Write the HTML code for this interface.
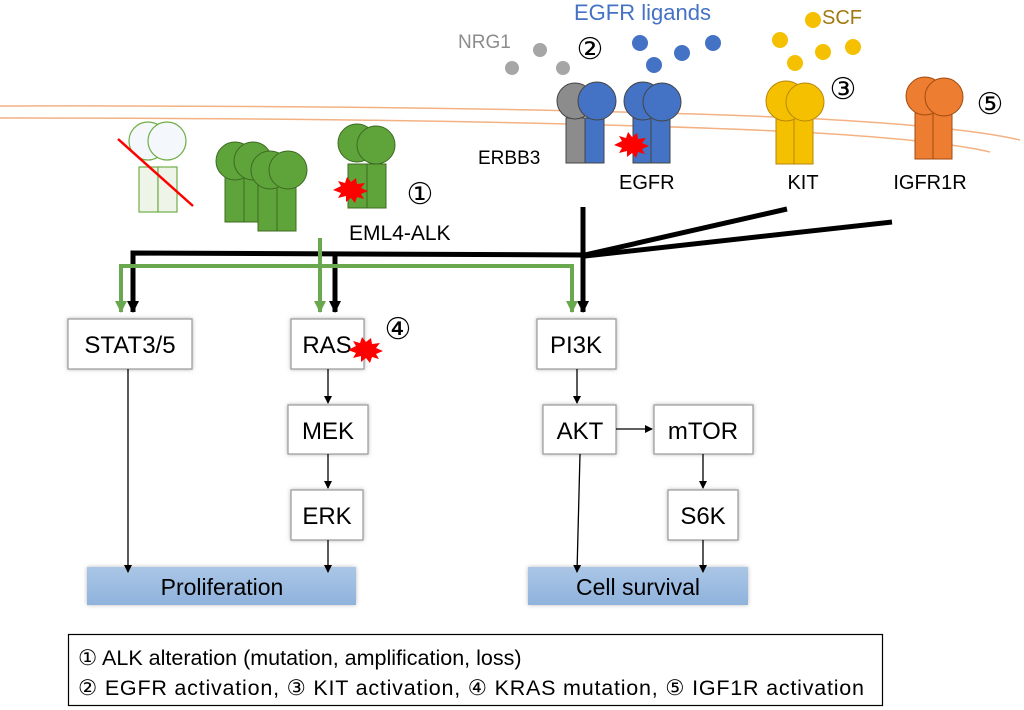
<!DOCTYPE html>
<html><head><meta charset="utf-8"><style>
html,body{margin:0;padding:0;background:#fff}
svg{display:block}
text{font-family:"Liberation Sans","DejaVu Sans",sans-serif}
</style></head><body>
<svg width="1024" height="710" viewBox="0 0 1024 710" xmlns="http://www.w3.org/2000/svg">
<defs>
<linearGradient id="bar" x1="0" y1="0" x2="0" y2="1"><stop offset="0" stop-color="#aac6e6"/><stop offset="1" stop-color="#8fb2dc"/></linearGradient>
<marker id="ab" markerWidth="8" markerHeight="8" refX="7" refY="4" orient="auto" markerUnits="userSpaceOnUse"><path d="M0,0 L8,4 L0,8 z" fill="#000"/></marker>
<marker id="sa" markerWidth="12" markerHeight="12" refX="11" refY="6" orient="auto" markerUnits="userSpaceOnUse"><path d="M0,0 L12,6 L0,12 z" fill="#000"/></marker>
<marker id="ga" markerWidth="12" markerHeight="12" refX="11" refY="6" orient="auto" markerUnits="userSpaceOnUse"><path d="M0,0 L12,6 L0,12 z" fill="#6aa84f"/></marker>
<filter id="sh"><feDropShadow dx="0" dy="0" stdDeviation="2" flood-color="#888" flood-opacity="0.6"/></filter>
</defs>

<!-- membrane -->
<path d="M0,106 Q500,105 800,118 Q960,126 1020,140" stroke="#f4b183" stroke-width="1.5" fill="none"/>
<path d="M0,118 Q500,118 800,132 Q940,140 990,152" stroke="#f4b183" stroke-width="1.5" fill="none"/>

<!-- ghost receptor -->
<g stroke="#70ad47" stroke-width="1.2" fill="#eef4e8">
<rect x="139" y="167" width="19" height="45"/><rect x="158" y="167" width="19" height="45"/>
<circle cx="148" cy="141" r="19" fill="#f4f7fb"/><circle cx="167" cy="141" r="19" fill="#f4f7fb"/>
</g>
<line x1="118" y1="139" x2="193" y2="206" stroke="#f00" stroke-width="2.5"/>

<!-- amplified cluster -->
<g stroke="#3d6b22" stroke-width="1" fill="#5fa33b">
<rect x="225" y="176" width="19" height="46"/><rect x="244" y="176" width="19" height="46"/>
<circle cx="235" cy="161" r="19"/><circle cx="253" cy="161" r="19"/>
<rect x="258" y="185" width="19" height="46"/><rect x="277" y="185" width="19" height="46"/>
<circle cx="270" cy="170" r="19"/><circle cx="288" cy="170" r="19"/>
</g>

<!-- EML4-ALK -->
<g stroke="#3d6b22" stroke-width="1" fill="#5fa33b">
<rect x="348" y="164" width="19" height="44"/><rect x="367" y="164" width="19" height="44"/>
<circle cx="357" cy="143" r="19"/><circle cx="376" cy="145" r="19"/>
</g>
<polygon points="333,190 341,186 338,181 345,183 347,177 351,182 356,178 357,184 365,183 361,188 368,191 361,194 364,199 357,197 355,203 351,198 346,202 346,196 338,198 341,193" fill="#f00"/>
<text x="420" y="204" font-size="30" text-anchor="middle">①</text>
<text x="349" y="240" font-size="21">EML4-ALK</text>

<!-- ERBB3 & EGFR -->
<g stroke="#444" stroke-width="1">
<rect x="566" y="118" width="19" height="45" fill="#8c8c8c"/><rect x="585" y="118" width="19" height="45" fill="#4472c4"/>
<circle cx="575" cy="101" r="18" fill="#8c8c8c"/><circle cx="597" cy="101" r="19" fill="#4472c4"/>
<rect x="633" y="118" width="18" height="45" fill="#4472c4"/><rect x="651" y="118" width="19" height="45" fill="#4472c4"/>
<circle cx="643" cy="101" r="19" fill="#4472c4"/><circle cx="662" cy="102" r="19" fill="#4472c4"/>
</g>
<polygon points="614,145 622,141 619,136 626,138 628,132 632,137 637,133 638,139 646,138 642,143 649,146 642,149 645,154 638,152 636,158 632,153 627,157 627,151 619,153 622,148" fill="#f00"/>
<text x="478" y="164" font-size="19">ERBB3</text>
<text x="619" y="189" font-size="20">EGFR</text>

<!-- KIT -->
<g stroke="#b8860b" stroke-width="1" fill="#f5c000">
<rect x="776" y="118" width="18" height="46"/><rect x="794" y="118" width="19" height="46"/>
<circle cx="786" cy="101" r="20"/><circle cx="805" cy="102" r="19"/>
</g>
<text x="803" y="189" font-size="20" text-anchor="middle">KIT</text>
<text x="843" y="99" font-size="30" text-anchor="middle">③</text>

<!-- IGF1R -->
<g stroke="#a04a10" stroke-width="1" fill="#ed7d31">
<rect x="915" y="113" width="18" height="46"/><rect x="933" y="113" width="19" height="46"/>
<circle cx="925" cy="96" r="19"/><circle cx="944" cy="97" r="19"/>
</g>
<text x="930" y="189" font-size="20" text-anchor="middle">IGFR1R</text>
<text x="990" y="114" font-size="30" text-anchor="middle">⑤</text>

<!-- ligands -->
<text x="458" y="48" font-size="19" fill="#8c8c8c">NRG1</text>
<g fill="#a6a6a6"><circle cx="512" cy="68" r="7"/><circle cx="540" cy="50" r="7"/><circle cx="563" cy="68" r="7"/></g>
<text x="590" y="59" font-size="30" text-anchor="middle">②</text>
<text x="574" y="20" font-size="22" fill="#4472c4">EGFR ligands</text>
<g fill="#4472c4"><circle cx="640" cy="43" r="8"/><circle cx="654" cy="65" r="8"/><circle cx="682" cy="53" r="8"/><circle cx="713" cy="43" r="8"/></g>
<text x="822" y="24" font-size="20" fill="#a07a10">SCF</text>
<g fill="#f5c000"><circle cx="780" cy="40" r="8"/><circle cx="813" cy="20" r="8"/><circle cx="795" cy="63" r="8"/><circle cx="823" cy="52" r="8"/><circle cx="853" cy="47" r="8"/></g>

<!-- black signaling lines -->
<g stroke="#000" stroke-width="5" fill="none">
<line x1="583" y1="207" x2="583" y2="312" marker-end="url(#sa)"/>
<line x1="585" y1="255" x2="787" y2="209"/>
<line x1="585" y1="256" x2="892" y2="222"/>
<polyline points="585,255 133,253 133,312" marker-end="url(#sa)"/>
<line x1="335" y1="253" x2="335" y2="312" marker-end="url(#sa)"/>
</g>
<g stroke="#6aa84f" stroke-width="4" fill="none">
<line x1="320" y1="238" x2="320" y2="312" marker-end="url(#ga)"/>
<polyline points="121,312 121,266 572,266 572,312" marker-end="url(#ga)"/>
<line x1="121" y1="290" x2="121" y2="312" marker-end="url(#ga)"/>
</g>

<!-- boxes -->
<g fill="#fff" stroke="#999" stroke-width="1.2" filter="url(#sh)">
<rect x="68" y="319" width="124" height="50"/>
<rect x="291" y="319" width="73" height="50"/>
<rect x="288" y="405" width="80" height="49"/>
<rect x="291" y="490" width="72" height="50"/>
<rect x="537" y="319" width="79" height="50"/>
<rect x="543" y="405" width="73" height="49"/>
<rect x="654" y="405" width="99" height="49"/>
<rect x="668" y="490" width="70" height="50"/>
</g>
<g font-size="24" text-anchor="middle">
<text x="130" y="353">STAT3/5</text>
<text x="327" y="353">RAS</text>
<text x="328" y="439">MEK</text>
<text x="327" y="524">ERK</text>
<text x="576" y="353">PI3K</text>
<text x="580" y="439">AKT</text>
<text x="703" y="439">mTOR</text>
<text x="703" y="524">S6K</text>
</g>
<polygon points="348,350 356,346 353,341 360,343 362,337 366,342 371,338 372,344 380,343 376,348 383,351 376,354 379,359 372,357 370,363 366,358 361,362 361,356 353,358 356,353" fill="#f00"/>
<text x="398" y="339" font-size="30" text-anchor="middle">④</text>

<!-- bars -->
<rect x="87" y="567" width="269" height="38" fill="url(#bar)" filter="url(#sh)"/>
<rect x="528" y="567" width="220" height="38" fill="url(#bar)" filter="url(#sh)"/>
<text x="222" y="595" font-size="23" text-anchor="middle">Proliferation</text>
<text x="638" y="595" font-size="23" text-anchor="middle">Cell survival</text>

<!-- thin arrows -->
<g stroke="#000" stroke-width="1.3" fill="none">
<line x1="128" y1="369" x2="128" y2="572" marker-end="url(#ab)"/>
<line x1="328" y1="369" x2="328" y2="403" marker-end="url(#ab)"/>
<line x1="328" y1="454" x2="328" y2="488" marker-end="url(#ab)"/>
<line x1="328" y1="540" x2="328" y2="572" marker-end="url(#ab)"/>
<line x1="577" y1="369" x2="577" y2="403" marker-end="url(#ab)"/>
<line x1="580" y1="454" x2="577" y2="572" marker-end="url(#ab)"/>
<line x1="616" y1="429" x2="652" y2="429" marker-end="url(#ab)"/>
<line x1="703" y1="454" x2="703" y2="488" marker-end="url(#ab)"/>
<line x1="703" y1="540" x2="703" y2="572" marker-end="url(#ab)"/>
</g>

<!-- legend -->
<rect x="68.5" y="634.5" width="814" height="71" fill="#fff" stroke="#000" stroke-width="1.2"/>
<text x="78" y="665" font-size="21.5">① ALK alteration (mutation, amplification, loss)</text>
<text x="78" y="695" font-size="21.5" textLength="786" lengthAdjust="spacing">② EGFR activation, ③ KIT activation,  ④ KRAS mutation,  ⑤ IGF1R activation</text>
</svg>
</body></html>
